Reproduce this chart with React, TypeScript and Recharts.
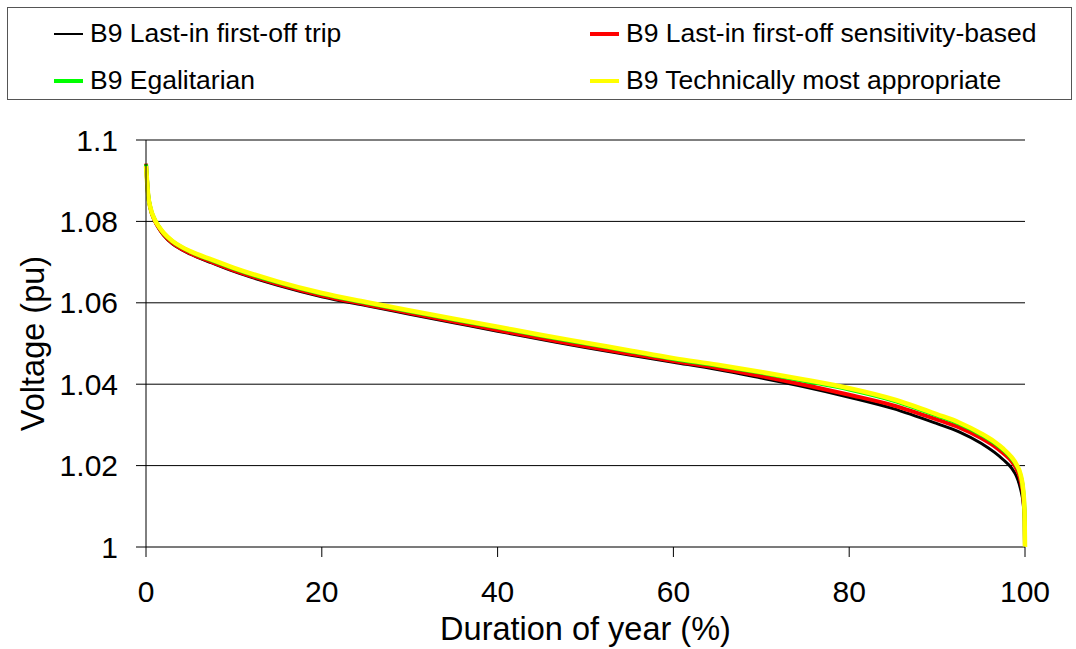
import React from 'react'
import { LineChart, Line, XAxis, YAxis, CartesianGrid } from 'recharts'

// duration of year (%) at which the curves were read
const DURATION = [0, 0.1, 0.25, 0.5, 1, 1.5, 2, 3, 4, 5, 7.5, 10, 15, 20, 25, 30, 35, 40, 45, 50, 55, 60, 65, 70, 75, 80, 85, 90, 92.5, 95, 96.5, 97.5, 98.5, 99, 99.5, 99.8, 99.95, 100]

const LIFO_TRIP = [1.094, 1.0905, 1.0862, 1.083, 1.08, 1.0781, 1.0766, 1.0745, 1.0731, 1.072, 1.0698, 1.0677, 1.0643, 1.0615, 1.0593, 1.0572, 1.0551, 1.053, 1.051, 1.049, 1.0472, 1.0454, 1.0436, 1.0415, 1.0393, 1.0368, 1.034, 1.0303, 1.0283, 1.0255, 1.0233, 1.0215, 1.0193, 1.0175, 1.0142, 1.0105, 1.006, 1.0]
const LIFO_SENS = [1.0942, 1.0907, 1.0864, 1.0832, 1.0802, 1.0783, 1.0768, 1.0747, 1.0733, 1.0722, 1.07, 1.068, 1.0646, 1.0618, 1.0596, 1.0575, 1.0554, 1.0533, 1.0513, 1.0493, 1.0475, 1.0457, 1.044, 1.042, 1.0398, 1.0374, 1.0348, 1.0313, 1.0294, 1.0268, 1.0248, 1.0231, 1.021, 1.0193, 1.0163, 1.0125, 1.007, 1.0]
const EGALITARIAN = [1.094, 1.0908, 1.0865, 1.0834, 1.0804, 1.0786, 1.0771, 1.0751, 1.0737, 1.0726, 1.0704, 1.0684, 1.065, 1.0622, 1.06, 1.0579, 1.0559, 1.0539, 1.0519, 1.05, 1.0481, 1.0462, 1.0446, 1.0428, 1.0408, 1.0387, 1.036, 1.0323, 1.0303, 1.0276, 1.0256, 1.0239, 1.0217, 1.0201, 1.0175, 1.0137, 1.0082, 1.0]
const TECH_APPROPRIATE = [1.0936, 1.0906, 1.0864, 1.0834, 1.0804, 1.0786, 1.0772, 1.0752, 1.0738, 1.0727, 1.0706, 1.0686, 1.0652, 1.0624, 1.0602, 1.0581, 1.0561, 1.0541, 1.0521, 1.0502, 1.0483, 1.0464, 1.0448, 1.043, 1.0411, 1.039, 1.0363, 1.0326, 1.0306, 1.0279, 1.0259, 1.0242, 1.022, 1.0204, 1.0178, 1.014, 1.0085, 1.0]

const X_TICKS = [0, 20, 40, 60, 80, 100]
const Y_TICKS = [1, 1.02, 1.04, 1.06, 1.08, 1.1]

const SERIES = [
    { key: 'trip', name: 'B9 Last-in first-off trip', color: '#000000', width: 3, legendWidth: 2 },
    { key: 'sens', name: 'B9 Last-in first-off sensitivity-based', color: '#ff0000', width: 4, legendWidth: 4 },
    { key: 'egal', name: 'B9 Egalitarian', color: '#00ff00', width: 4, legendWidth: 4 },
    { key: 'tech', name: 'B9 Technically most appropriate', color: '#ffff00', width: 4.5, legendWidth: 4 },
]

const data = DURATION.map((x, i) => ({
    x,
    trip: LIFO_TRIP[i],
    sens: LIFO_SENS[i],
    egal: EGALITARIAN[i],
    tech: TECH_APPROPRIATE[i],
}))

const font = '"Liberation Sans", Arial, sans-serif'

const LegendBox = () => {
    // two columns, two rows
    return (
        <div
            style={{
                position: 'absolute',
                left: 7,
                top: 7,
                width: 1065,
                height: 93,
                border: '1px solid #555',
                boxSizing: 'border-box',
                display: 'grid',
                gridTemplateColumns: '536px 1fr',
                gridTemplateRows: '47px 47px',
                paddingLeft: 46,
                paddingTop: 2,
                fontSize: 26.5,
                fontFamily: font,
                color: '#000',
            }}
        >
            {SERIES.map((s) => (
                <div key={s.key} style={{ display: 'flex', alignItems: 'center', whiteSpace: 'nowrap' }}>
                    <span style={{ display: 'inline-block', width: 29, height: s.legendWidth, background: s.color, marginRight: 7 }} />
                    <span>{s.name}</span>
                </div>
            ))}
        </div>
    )
}

const App = () => {
    return (
        <div style={{ position: 'absolute', left: 0, top: 0, width: 1076, height: 649, background: '#fff', fontFamily: font }}>
            <LegendBox />
            <LineChart
                width={1076}
                height={649}
                data={data}
                margin={{ top: 140, right: 51, bottom: 0, left: 0 }}
            >
                <CartesianGrid vertical={false} stroke="#000" />
                <XAxis
                    dataKey="x"
                    type="number"
                    domain={[0, 100]}
                    ticks={X_TICKS}
                    height={102}
                    tickSize={10}
                    tickMargin={24}
                    axisLine={{ stroke: '#777' }}
                    tickLine={{ stroke: '#000' }}
                    tick={{ fill: '#000', fontSize: 30 }}
                    label={{ value: 'Duration of year (%)', position: 'insideBottom', offset: 9, fill: '#000', fontSize: 32.5 }}
                />
                <YAxis
                    type="number"
                    domain={[1, 1.1]}
                    ticks={Y_TICKS}
                    width={146}
                    tickSize={10}
                    tickMargin={18}
                    axisLine={{ stroke: '#000' }}
                    tickLine={{ stroke: '#000' }}
                    tick={{ fill: '#000', fontSize: 30 }}
                    label={{ value: 'Voltage (pu)', angle: -90, position: 'insideLeft', offset: 32, fill: '#000', fontSize: 32.5, textAnchor: 'middle' }}
                />
                {SERIES.map((s) => (
                    <Line
                        key={s.key}
                        type="monotone"
                        dataKey={s.key}
                        name={s.name}
                        stroke={s.color}
                        strokeWidth={s.width}
                        dot={false}
                        isAnimationActive={false}
                    />
                ))}
            </LineChart>
        </div>
    )
}

export default App
